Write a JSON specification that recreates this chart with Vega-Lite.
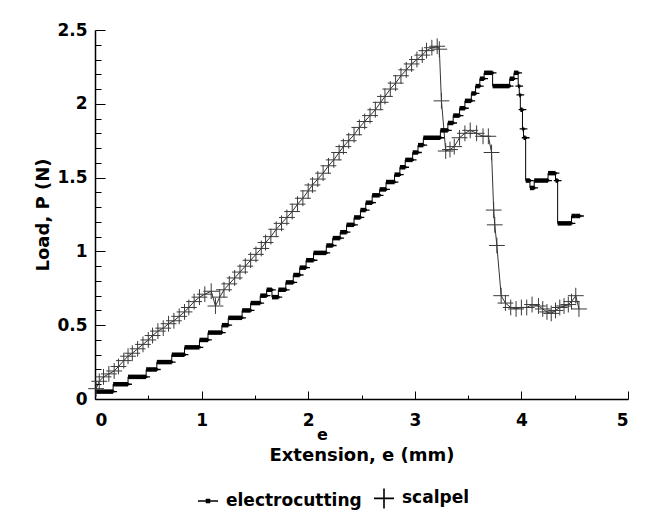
{
  "$schema": "https://vega.github.io/schema/vega-lite/v6.json",
  "width": 533,
  "height": 369,
  "autosize": {"type": "none"},
  "padding": {"left": 95, "top": 30, "right": 22, "bottom": 121},
  "background": "white",
  "title": {"text": "e", "orient": "bottom", "anchor": "middle", "frame": "group", "dx": -39, "offset": -85, "font": "DejaVu Sans", "fontWeight": "bold", "fontSize": 16, "color": "black"},
  "config": {
    "view": {"stroke": null},
    "font": "DejaVu Sans",
    "axis": {
      "grid": false,
      "domainColor": "black",
      "domainWidth": 1.5,
      "tickColor": "black",
      "tickWidth": 1,
      "labelFont": "DejaVu Sans",
      "labelFontWeight": "bold",
      "labelFontSize": 17,
      "labelColor": "black",
      "titleFont": "DejaVu Sans",
      "titleFontWeight": "bold",
      "titleFontSize": 18,
      "titleColor": "black"
    },
    "legend": {
      "labelFont": "DejaVu Sans",
      "labelFontWeight": "bold",
      "labelFontSize": 17,
      "labelColor": "black"
    }
  },
  "datasets": {
    "electro": [
      {"series": "electrocutting", "x": 0.00, "x2": 0.17, "y": 0.05},
      {"series": "electrocutting", "x": 0.17, "x2": 0.31, "y": 0.10},
      {"series": "electrocutting", "x": 0.31, "x2": 0.48, "y": 0.15},
      {"series": "electrocutting", "x": 0.48, "x2": 0.58, "y": 0.20},
      {"series": "electrocutting", "x": 0.58, "x2": 0.72, "y": 0.25},
      {"series": "electrocutting", "x": 0.72, "x2": 0.84, "y": 0.30},
      {"series": "electrocutting", "x": 0.84, "x2": 0.98, "y": 0.35},
      {"series": "electrocutting", "x": 0.98, "x2": 1.06, "y": 0.40},
      {"series": "electrocutting", "x": 1.06, "x2": 1.19, "y": 0.45},
      {"series": "electrocutting", "x": 1.19, "x2": 1.25, "y": 0.50},
      {"series": "electrocutting", "x": 1.25, "x2": 1.38, "y": 0.55},
      {"series": "electrocutting", "x": 1.38, "x2": 1.46, "y": 0.60},
      {"series": "electrocutting", "x": 1.46, "x2": 1.55, "y": 0.65},
      {"series": "electrocutting", "x": 1.55, "x2": 1.61, "y": 0.70},
      {"series": "electrocutting", "x": 1.61, "x2": 1.66, "y": 0.74},
      {"series": "electrocutting", "x": 1.66, "x2": 1.72, "y": 0.69},
      {"series": "electrocutting", "x": 1.72, "x2": 1.79, "y": 0.74},
      {"series": "electrocutting", "x": 1.79, "x2": 1.86, "y": 0.79},
      {"series": "electrocutting", "x": 1.86, "x2": 1.92, "y": 0.84},
      {"series": "electrocutting", "x": 1.92, "x2": 1.98, "y": 0.89},
      {"series": "electrocutting", "x": 1.98, "x2": 2.05, "y": 0.94},
      {"series": "electrocutting", "x": 2.05, "x2": 2.17, "y": 0.99},
      {"series": "electrocutting", "x": 2.17, "x2": 2.23, "y": 1.04},
      {"series": "electrocutting", "x": 2.23, "x2": 2.30, "y": 1.09},
      {"series": "electrocutting", "x": 2.30, "x2": 2.36, "y": 1.13},
      {"series": "electrocutting", "x": 2.36, "x2": 2.43, "y": 1.18},
      {"series": "electrocutting", "x": 2.43, "x2": 2.49, "y": 1.23},
      {"series": "electrocutting", "x": 2.49, "x2": 2.54, "y": 1.28},
      {"series": "electrocutting", "x": 2.54, "x2": 2.60, "y": 1.33},
      {"series": "electrocutting", "x": 2.60, "x2": 2.67, "y": 1.38},
      {"series": "electrocutting", "x": 2.67, "x2": 2.73, "y": 1.42},
      {"series": "electrocutting", "x": 2.73, "x2": 2.81, "y": 1.47},
      {"series": "electrocutting", "x": 2.81, "x2": 2.86, "y": 1.52},
      {"series": "electrocutting", "x": 2.86, "x2": 2.91, "y": 1.57},
      {"series": "electrocutting", "x": 2.91, "x2": 2.98, "y": 1.62},
      {"series": "electrocutting", "x": 2.98, "x2": 3.03, "y": 1.67},
      {"series": "electrocutting", "x": 3.03, "x2": 3.08, "y": 1.72},
      {"series": "electrocutting", "x": 3.08, "x2": 3.24, "y": 1.77},
      {"series": "electrocutting", "x": 3.24, "x2": 3.31, "y": 1.82},
      {"series": "electrocutting", "x": 3.31, "x2": 3.36, "y": 1.87},
      {"series": "electrocutting", "x": 3.36, "x2": 3.42, "y": 1.92},
      {"series": "electrocutting", "x": 3.42, "x2": 3.47, "y": 1.97},
      {"series": "electrocutting", "x": 3.47, "x2": 3.53, "y": 2.02},
      {"series": "electrocutting", "x": 3.53, "x2": 3.57, "y": 2.07},
      {"series": "electrocutting", "x": 3.57, "x2": 3.61, "y": 2.12},
      {"series": "electrocutting", "x": 3.61, "x2": 3.65, "y": 2.17},
      {"series": "electrocutting", "x": 3.65, "x2": 3.73, "y": 2.21},
      {"series": "electrocutting", "x": 3.73, "x2": 3.89, "y": 2.12},
      {"series": "electrocutting", "x": 3.89, "x2": 3.93, "y": 2.17},
      {"series": "electrocutting", "x": 3.93, "x2": 3.97, "y": 2.21},
      {"series": "electrocutting", "x": 3.97, "x2": 3.98, "y": 2.12},
      {"series": "electrocutting", "x": 3.98, "x2": 3.99, "y": 2.06},
      {"series": "electrocutting", "x": 3.99, "x2": 4.01, "y": 1.96},
      {"series": "electrocutting", "x": 4.01, "x2": 4.02, "y": 1.83},
      {"series": "electrocutting", "x": 4.02, "x2": 4.04, "y": 1.77},
      {"series": "electrocutting", "x": 4.04, "x2": 4.08, "y": 1.48},
      {"series": "electrocutting", "x": 4.08, "x2": 4.12, "y": 1.43},
      {"series": "electrocutting", "x": 4.12, "x2": 4.25, "y": 1.48},
      {"series": "electrocutting", "x": 4.25, "x2": 4.32, "y": 1.53},
      {"series": "electrocutting", "x": 4.32, "x2": 4.34, "y": 1.48},
      {"series": "electrocutting", "x": 4.34, "x2": 4.47, "y": 1.19},
      {"series": "electrocutting", "x": 4.47, "x2": 4.51, "y": 1.24},
      {"series": "electrocutting", "x": 4.51, "x2": 4.55, "y": 1.24}
    ],
    "scalpel": [
      {"series": "scalpel", "x": 0.01, "y": 0.07},
      {"series": "scalpel", "x": 0.04, "y": 0.12},
      {"series": "scalpel", "x": 0.08, "y": 0.15},
      {"series": "scalpel", "x": 0.13, "y": 0.17},
      {"series": "scalpel", "x": 0.18, "y": 0.19},
      {"series": "scalpel", "x": 0.22, "y": 0.22},
      {"series": "scalpel", "x": 0.27, "y": 0.26},
      {"series": "scalpel", "x": 0.31, "y": 0.29},
      {"series": "scalpel", "x": 0.35, "y": 0.31},
      {"series": "scalpel", "x": 0.40, "y": 0.34},
      {"series": "scalpel", "x": 0.45, "y": 0.37},
      {"series": "scalpel", "x": 0.50, "y": 0.40},
      {"series": "scalpel", "x": 0.54, "y": 0.43},
      {"series": "scalpel", "x": 0.59, "y": 0.46},
      {"series": "scalpel", "x": 0.64, "y": 0.48},
      {"series": "scalpel", "x": 0.69, "y": 0.51},
      {"series": "scalpel", "x": 0.74, "y": 0.53},
      {"series": "scalpel", "x": 0.79, "y": 0.56},
      {"series": "scalpel", "x": 0.84, "y": 0.59},
      {"series": "scalpel", "x": 0.88, "y": 0.62},
      {"series": "scalpel", "x": 0.93, "y": 0.66},
      {"series": "scalpel", "x": 0.98, "y": 0.69},
      {"series": "scalpel", "x": 1.03, "y": 0.71},
      {"series": "scalpel", "x": 1.09, "y": 0.73},
      {"series": "scalpel", "x": 1.13, "y": 0.63},
      {"series": "scalpel", "x": 1.17, "y": 0.69},
      {"series": "scalpel", "x": 1.21, "y": 0.74},
      {"series": "scalpel", "x": 1.26, "y": 0.78},
      {"series": "scalpel", "x": 1.31, "y": 0.82},
      {"series": "scalpel", "x": 1.36, "y": 0.86},
      {"series": "scalpel", "x": 1.41, "y": 0.90},
      {"series": "scalpel", "x": 1.46, "y": 0.94},
      {"series": "scalpel", "x": 1.51, "y": 0.98},
      {"series": "scalpel", "x": 1.56, "y": 1.02},
      {"series": "scalpel", "x": 1.60, "y": 1.06},
      {"series": "scalpel", "x": 1.65, "y": 1.10},
      {"series": "scalpel", "x": 1.70, "y": 1.15},
      {"series": "scalpel", "x": 1.75, "y": 1.19},
      {"series": "scalpel", "x": 1.80, "y": 1.23},
      {"series": "scalpel", "x": 1.85, "y": 1.27},
      {"series": "scalpel", "x": 1.90, "y": 1.32},
      {"series": "scalpel", "x": 1.95, "y": 1.36},
      {"series": "scalpel", "x": 2.00, "y": 1.41},
      {"series": "scalpel", "x": 2.04, "y": 1.45},
      {"series": "scalpel", "x": 2.09, "y": 1.49},
      {"series": "scalpel", "x": 2.14, "y": 1.53},
      {"series": "scalpel", "x": 2.19, "y": 1.58},
      {"series": "scalpel", "x": 2.24, "y": 1.62},
      {"series": "scalpel", "x": 2.29, "y": 1.67},
      {"series": "scalpel", "x": 2.33, "y": 1.71},
      {"series": "scalpel", "x": 2.38, "y": 1.75},
      {"series": "scalpel", "x": 2.43, "y": 1.79},
      {"series": "scalpel", "x": 2.48, "y": 1.84},
      {"series": "scalpel", "x": 2.53, "y": 1.88},
      {"series": "scalpel", "x": 2.58, "y": 1.92},
      {"series": "scalpel", "x": 2.63, "y": 1.96},
      {"series": "scalpel", "x": 2.68, "y": 2.01},
      {"series": "scalpel", "x": 2.72, "y": 2.05},
      {"series": "scalpel", "x": 2.77, "y": 2.10},
      {"series": "scalpel", "x": 2.82, "y": 2.14},
      {"series": "scalpel", "x": 2.87, "y": 2.19},
      {"series": "scalpel", "x": 2.92, "y": 2.23},
      {"series": "scalpel", "x": 2.97, "y": 2.27},
      {"series": "scalpel", "x": 3.02, "y": 2.30},
      {"series": "scalpel", "x": 3.07, "y": 2.33},
      {"series": "scalpel", "x": 3.11, "y": 2.36},
      {"series": "scalpel", "x": 3.16, "y": 2.38},
      {"series": "scalpel", "x": 3.21, "y": 2.39},
      {"series": "scalpel", "x": 3.23, "y": 2.37},
      {"series": "scalpel", "x": 3.25, "y": 2.02},
      {"series": "scalpel", "x": 3.29, "y": 1.68},
      {"series": "scalpel", "x": 3.33, "y": 1.69},
      {"series": "scalpel", "x": 3.37, "y": 1.71},
      {"series": "scalpel", "x": 3.42, "y": 1.77},
      {"series": "scalpel", "x": 3.47, "y": 1.80},
      {"series": "scalpel", "x": 3.52, "y": 1.82},
      {"series": "scalpel", "x": 3.58, "y": 1.80},
      {"series": "scalpel", "x": 3.64, "y": 1.78},
      {"series": "scalpel", "x": 3.69, "y": 1.78},
      {"series": "scalpel", "x": 3.72, "y": 1.67},
      {"series": "scalpel", "x": 3.74, "y": 1.28},
      {"series": "scalpel", "x": 3.75, "y": 1.18},
      {"series": "scalpel", "x": 3.77, "y": 1.04},
      {"series": "scalpel", "x": 3.81, "y": 0.70},
      {"series": "scalpel", "x": 3.85, "y": 0.65},
      {"series": "scalpel", "x": 3.90, "y": 0.62},
      {"series": "scalpel", "x": 3.95, "y": 0.61},
      {"series": "scalpel", "x": 4.00, "y": 0.62},
      {"series": "scalpel", "x": 4.05, "y": 0.62},
      {"series": "scalpel", "x": 4.10, "y": 0.64},
      {"series": "scalpel", "x": 4.16, "y": 0.63},
      {"series": "scalpel", "x": 4.20, "y": 0.61},
      {"series": "scalpel", "x": 4.24, "y": 0.59},
      {"series": "scalpel", "x": 4.28, "y": 0.58},
      {"series": "scalpel", "x": 4.32, "y": 0.60},
      {"series": "scalpel", "x": 4.36, "y": 0.62},
      {"series": "scalpel", "x": 4.40, "y": 0.63},
      {"series": "scalpel", "x": 4.44, "y": 0.64},
      {"series": "scalpel", "x": 4.47, "y": 0.66},
      {"series": "scalpel", "x": 4.51, "y": 0.70},
      {"series": "scalpel", "x": 4.54, "y": 0.61}
    ]
  },
  "encoding": {
    "y": {
      "field": "y",
      "type": "quantitative",
      "scale": {"domain": [0, 2.5], "nice": false, "zero": true},
      "axis": {
        "title": "Load, P (N)",
        "values": [0, 0.1, 0.2, 0.3, 0.4, 0.5, 0.6, 0.7, 0.8, 0.9, 1, 1.1, 1.2, 1.3, 1.4, 1.5, 1.6, 1.7, 1.8, 1.9, 2, 2.1, 2.2, 2.3, 2.4, 2.5],
        "labelExpr": "abs(datum.value*2-round(datum.value*2))<0.001 ? format(datum.value,'~g') : ''",
        "tickSize": {"condition": {"test": "abs(datum.value*2-round(datum.value*2))<0.001", "value": -10}, "value": -6},
        "labelPadding": 18,
        "titlePadding": 4
      }
    }
  },
  "layer": [
    {
      "data": {"name": "electro"},
      "transform": [{"fold": ["x", "x2"], "as": ["k", "xv"]}],
      "mark": {"type": "line", "color": "black", "strokeWidth": 1},
      "encoding": {
        "x": {"field": "xv", "type": "quantitative", "scale": {"domain": [0, 5], "nice": false},
          "axis": {
            "title": "Extension, e (mm)",
            "values": [0, 0.5, 1, 1.5, 2, 2.5, 3, 3.5, 4, 4.5, 5],
            "labelExpr": "datum.value % 1 == 0 ? format(datum.value,'d') : ''",
            "tickSize": {"condition": {"test": "datum.value % 1 == 0", "value": -8}, "value": -4},
            "labelPadding": 21,
            "titlePadding": 18
          }
        },
        "order": [{"field": "xv", "type": "quantitative"}, {"field": "k", "type": "nominal", "sort": "descending"}]
      }
    },
    {
      "data": {"name": "electro"},
      "mark": {"type": "rule", "color": "black", "strokeWidth": 4.5},
      "encoding": {
        "x": {"field": "x", "type": "quantitative"},
        "x2": {"field": "x2"}
      }
    },
    {
      "data": {"name": "electro"},
      "mark": {"type": "point", "filled": false, "stroke": "black", "strokeWidth": 1.3, "size": 60, "opacity": 1},
      "encoding": {
        "x": {"field": "x2", "type": "quantitative"},
        "shape": {
          "field": "series", "type": "nominal",
          "scale": {"domain": ["electrocutting", "scalpel"], "range": ["M-1,0L1,0M-0.15,-0.15L0.15,-0.15L0.15,0.15L-0.15,0.15Z", "M-1,0L1,0M0,-1L0,1"]},
          "legend": {
            "title": null,
            "orient": "none",
            "direction": "horizontal",
            "legendX": 102,
            "legendY": 457,
            "symbolSize": 400,
            "symbolStrokeColor": "black",
            "symbolFillColor": "black",
            "symbolStrokeWidth": 1.6,
            "labelOffset": 7,
            "columnPadding": 8
          }
        }
      }
    },
    {
      "data": {"name": "scalpel"},
      "mark": {"type": "line", "color": "black", "strokeWidth": 0.8},
      "encoding": {
        "x": {"field": "x", "type": "quantitative"},
        "order": {"field": "x", "type": "quantitative"}
      }
    },
    {
      "data": {"name": "scalpel"},
      "mark": {"type": "point", "filled": false, "stroke": "#3a3a3a", "strokeWidth": 1, "size": 250, "opacity": 1},
      "encoding": {
        "x": {"field": "x", "type": "quantitative"},
        "shape": {"field": "series", "type": "nominal"}
      }
    }
  ]
}
